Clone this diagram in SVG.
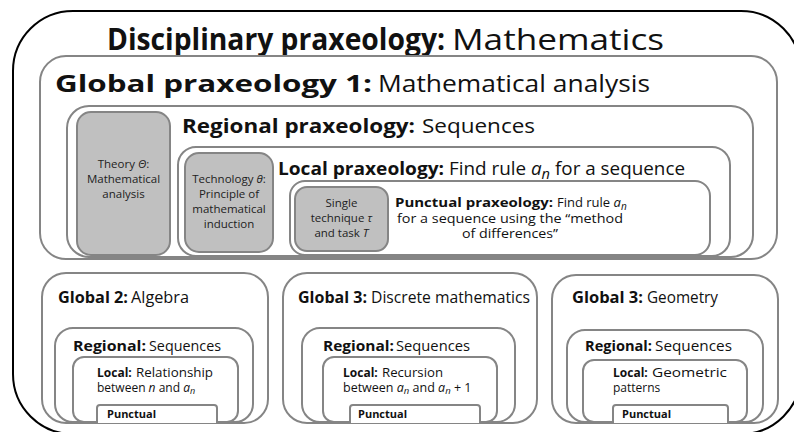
<svg xmlns="http://www.w3.org/2000/svg" width="794" height="432" viewBox="0 0 794 432">
<style>
text{font-family:"Open Sans","Noto Sans","DejaVu Sans",sans-serif;fill:#111}
.b{font-weight:bold}
.n{font-weight:normal}
.box{fill:#fff;stroke:#858585;stroke-width:2}
.gbox{fill:#c0c0c0;stroke:#858585;stroke-width:2}
.gt{font-size:11.5px;fill:#222;text-anchor:middle}
.i{font-style:italic}
.s{font-size:12px}
</style>
<rect width="794" height="432" fill="#fff"/>
<g id="disciplinary">
<rect x="13" y="11" width="788" height="423" rx="60" ry="60" fill="#fff" stroke="#000" stroke-width="2"/>
<text class="b" x="107" y="50" font-size="30" textLength="338" lengthAdjust="spacingAndGlyphs">Disciplinary praxeology:</text>
<text class="n" x="452" y="50" font-size="30" textLength="212" lengthAdjust="spacingAndGlyphs">Mathematics</text>
</g>
<g id="global1">
<rect class="box" x="40" y="56" width="737" height="203" rx="26"/>
<text class="b" x="55" y="92" font-size="23" textLength="317" lengthAdjust="spacingAndGlyphs">Global praxeology 1:</text>
<text class="n" x="378" y="92" font-size="23" textLength="272" lengthAdjust="spacingAndGlyphs">Mathematical analysis</text>
</g>
<g id="regional1">
<rect class="box" x="67" y="106" width="686" height="151" rx="22"/>
<text class="b" x="182" y="133" font-size="20" textLength="233" lengthAdjust="spacingAndGlyphs">Regional praxeology:</text>
<text class="n" x="422" y="133" font-size="20" textLength="113" lengthAdjust="spacingAndGlyphs">Sequences</text>
</g>
<g id="theory">
<rect class="gbox" x="77" y="112" width="93" height="143" rx="14"/>
<text class="gt" x="123.5" y="168">Theory <tspan class="i">Θ</tspan>:</text>
<text class="gt" x="123.5" y="183">Mathematical</text>
<text class="gt" x="123.5" y="198">analysis</text>
</g>
<g id="local1">
<rect class="box" x="178" y="147" width="552" height="109" rx="18"/>
<text class="b" x="278" y="175" font-size="18" textLength="166" lengthAdjust="spacingAndGlyphs">Local praxeology:</text>
<text class="n" x="449" y="175" font-size="18" textLength="236" lengthAdjust="spacingAndGlyphs">Find rule <tspan class="i">a</tspan><tspan class="i" font-size="14" dy="4">n</tspan><tspan dy="-4"> for a sequence</tspan></text>
</g>
<g id="technology">
<rect class="gbox" x="185" y="153" width="88" height="99" rx="14"/>
<text class="gt" x="229" y="183">Technology <tspan class="i">θ</tspan>:</text>
<text class="gt" x="229" y="198">Principle of</text>
<text class="gt" x="229" y="213">mathematical</text>
<text class="gt" x="229" y="228">induction</text>
</g>
<g id="punctual1">
<rect class="box" x="290" y="181" width="420" height="74" rx="15"/>
<text class="b" x="395" y="207" font-size="13" textLength="158" lengthAdjust="spacingAndGlyphs">Punctual praxeology:</text>
<text class="n" x="557" y="207" font-size="13">Find rule <tspan class="i">a</tspan><tspan class="i" font-size="10" dy="3">n</tspan></text>
<text class="n" x="397" y="223" font-size="13" textLength="226" lengthAdjust="spacingAndGlyphs">for a sequence using the “method</text>
<text class="n" x="462" y="238" font-size="13" textLength="96" lengthAdjust="spacingAndGlyphs">of differences”</text>
</g>
<g id="technique">
<rect class="gbox" x="295" y="187" width="93" height="64" rx="12"/>
<text class="gt" x="341.5" y="207">Single</text>
<text class="gt" x="341.5" y="222">technique <tspan class="i">τ</tspan></text>
<text class="gt" x="341.5" y="237">and task <tspan class="i">T</tspan></text>
</g>
<g id="global2">
<rect class="box" x="42" y="273" width="226" height="150" rx="24"/>
<text class="b" x="58" y="303" font-size="16" textLength="70" lengthAdjust="spacingAndGlyphs">Global 2:</text>
<text class="n" x="131" y="303" font-size="16" textLength="58" lengthAdjust="spacingAndGlyphs">Algebra</text>
</g>
<g id="regional2">
<rect class="box" x="55" y="328" width="198" height="94" rx="18"/>
<text class="b" x="73" y="351" font-size="15" textLength="73" lengthAdjust="spacingAndGlyphs">Regional:</text>
<text class="n" x="149" y="351" font-size="15" textLength="72" lengthAdjust="spacingAndGlyphs">Sequences</text>
</g>
<g id="local2">
<rect class="box" x="73" y="357" width="165" height="65" rx="11"/>
<text class="b s" x="97" y="377">Local:</text>
<text class="s" x="136" y="377" textLength="77" lengthAdjust="spacingAndGlyphs">Relationship</text>
<text class="s" x="97" y="392">between <tspan class="i">n</tspan> and <tspan class="i">a</tspan><tspan class="i" font-size="9" dy="2">n</tspan></text>
</g>
<g id="punctual2">
<path class="box" d="M97,423 V408 a3,3 0 0 1 3,-3 H214 a3,3 0 0 1 3,3 V423"/>
<text class="b" x="107" y="418" font-size="11">Punctual</text>
</g>
<g id="global3">
<rect class="box" x="283" y="273" width="254" height="150" rx="24"/>
<text class="b" x="298" y="303" font-size="16" textLength="69" lengthAdjust="spacingAndGlyphs">Global 3:</text>
<text class="n" x="371" y="303" font-size="16" textLength="159" lengthAdjust="spacingAndGlyphs">Discrete mathematics</text>
</g>
<g id="regional3">
<rect class="box" x="302" y="328" width="213" height="94" rx="18"/>
<text class="b" x="323" y="351" font-size="15" textLength="71" lengthAdjust="spacingAndGlyphs">Regional:</text>
<text class="n" x="396" y="351" font-size="15" textLength="74" lengthAdjust="spacingAndGlyphs">Sequences</text>
</g>
<g id="local3">
<rect class="box" x="323" y="357" width="174" height="65" rx="11"/>
<text class="b s" x="343" y="377">Local:</text>
<text class="s" x="382" y="377" textLength="61" lengthAdjust="spacingAndGlyphs">Recursion</text>
<text x="343" y="392" font-size="12.5">between <tspan class="i">a</tspan><tspan class="i" font-size="9.5" dy="2">n</tspan><tspan dy="-2"> and </tspan><tspan class="i">a</tspan><tspan class="i" font-size="9.5" dy="2">n</tspan><tspan dy="-2"> + 1</tspan></text>
</g>
<g id="punctual3">
<path class="box" d="M350,423 V408 a3,3 0 0 1 3,-3 H477 a3,3 0 0 1 3,3 V423"/>
<text class="b" x="358" y="418" font-size="11">Punctual</text>
</g>
<g id="global4">
<rect class="box" x="552" y="275" width="226" height="148" rx="24"/>
<text class="b" x="572" y="303" font-size="16" textLength="71" lengthAdjust="spacingAndGlyphs">Global 3:</text>
<text class="n" x="647" y="303" font-size="16" textLength="71" lengthAdjust="spacingAndGlyphs">Geometry</text>
</g>
<g id="regional4">
<rect class="box" x="567" y="330" width="196" height="92" rx="18"/>
<text class="b" x="585" y="351" font-size="15" textLength="67" lengthAdjust="spacingAndGlyphs">Regional:</text>
<text class="n" x="655" y="351" font-size="15" textLength="77" lengthAdjust="spacingAndGlyphs">Sequences</text>
</g>
<g id="local4">
<rect class="box" x="583" y="360" width="164" height="62" rx="11"/>
<text class="b s" x="613" y="377">Local:</text>
<text class="s" x="652" y="377" textLength="75" lengthAdjust="spacingAndGlyphs">Geometric</text>
<text class="s" x="613" y="392">patterns</text>
</g>
<g id="punctual4">
<path class="box" d="M613,423 V408 a3,3 0 0 1 3,-3 H725 a3,3 0 0 1 3,3 V423"/>
<text class="b" x="622" y="418" font-size="11">Punctual</text>
</g>
<g id="connectors"></g>
</svg>
